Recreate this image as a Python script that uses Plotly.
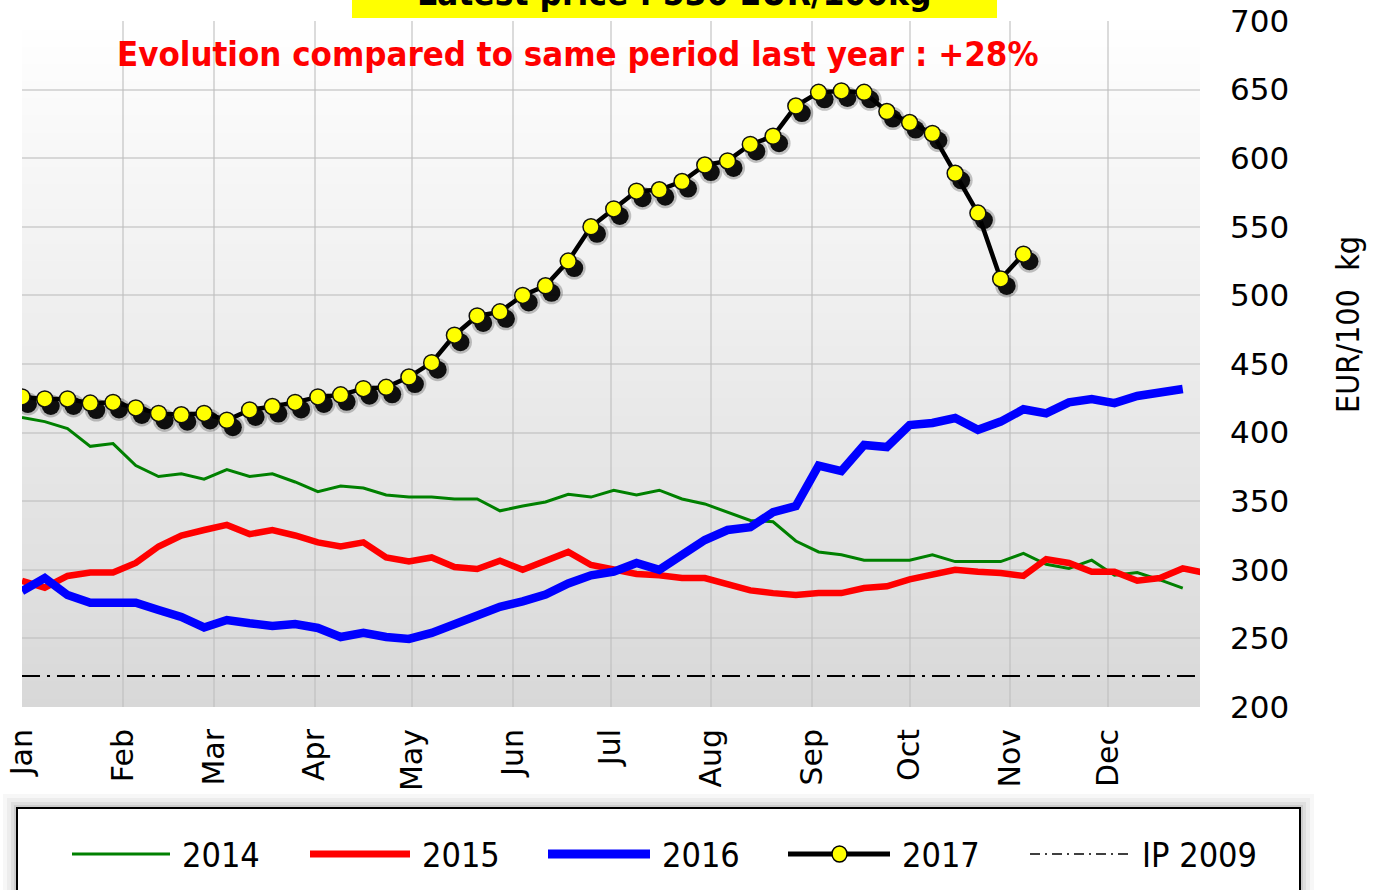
import plotly.graph_objects as go

# ---------------- data ----------------
weeks_2014 = list(range(1, 53))
price_2014 = [411, 408, 403, 390, 392, 376, 368, 370, 366, 373,
              368, 370, 364, 357, 361, 359.6, 354.5, 353, 353, 351.6,
              351.6, 343, 346.5, 349.4, 355, 353, 358, 354.5, 358, 351.6,
              348, 342, 336, 335, 321, 313, 311, 307, 307, 307,
              311, 306, 306, 306, 312, 304, 301, 307, 296, 298,
              292.6, 286.7]

weeks_2015 = list(range(1, 54))
price_2015 = [292, 287, 295.5, 298, 298, 305, 317, 325, 329, 332.7,
              326, 329, 325, 320, 317, 320, 309, 306, 309, 302,
              300.6, 306.6, 300, 307, 313, 303.5, 300, 297, 296, 294,
              294, 289, 285, 283, 281.6, 283, 283, 286.7, 288, 293,
              296, 300, 298.6, 297.7, 295.5, 307.7, 305, 298.6, 298.6, 292,
              294, 301, 297.7]

weeks_2016 = list(range(1, 53))
price_2016 = [284.5, 294, 281.6, 276, 276, 276, 270.7, 265.6, 258, 263.4,
              261, 259, 260.5, 257.6, 251, 254, 251, 249.6, 254, 259.8,
              265.6, 273, 277, 282, 290, 296, 298.6, 305, 300, 310,
              321.7, 329, 331, 342, 346.5, 376, 372, 391, 389.5, 405.5,
              407, 410.6, 402, 408, 417, 414, 422, 424.5, 421.5, 426.7,
              429, 431.8]

weeks_2017 = list(range(1, 46))
price_2017 = [426, 424.5, 424.5, 421.5, 422, 418, 414, 413, 414, 409,
              416.5, 419, 422, 426, 427.5, 432, 433, 440.5, 451, 471,
              485, 488, 500, 507, 525, 550, 563, 576, 577, 583,
              595, 598, 610, 616, 638, 648, 649, 648, 634, 626,
              618, 589, 560, 512, 530]

ip_2009_weeks = [1, 53]
ip_2009_value = [222.6, 222.6]

month_names = ["Jan", "Feb", "Mar", "Apr", "May", "Jun",
               "Jul", "Aug", "Sep", "Oct", "Nov", "Dec"]
month_start_day = [1, 32, 60, 91, 121, 152, 182, 213, 244, 274, 305, 335]
month_tick_week = [1 + (d - 1) / 7 for d in month_start_day]

y_ticks = [200, 250, 300, 350, 400, 450, 500, 550, 600, 650, 700]

title_text = "Latest price : 530 EUR/100kg"
subtitle_text = "Evolution compared to same period last year : +28%"
y_title = "EUR/100\u00a0\u00a0kg"
legend_labels = ["2014", "2015", "2016", "2017", "IP 2009"]

# ---------------- layout geometry (pixels) ----------------
FIG_W, FIG_H = 1373, 890
PL, PR, PT, PB = 22, 1200, 21, 707
X_MAX = 1 + (PR - PL) / 22.76


def px_x(px):
    return (px - PL) / (PR - PL)


def px_y(py):
    return (PB - py) / (PB - PT)


# shadow offset for the 2017 markers (about 6 px right, 7 px down)
SH_DX = 6 / ((PR - PL) / (X_MAX - 1))
SH_DY = -7 / ((PB - PT) / 500)

cond = "DejaVu Sans Condensed, DejaVu Sans, sans-serif"
reg = "DejaVu Sans, Verdana, sans-serif"

fig = go.Figure()

fig.add_trace(go.Scatter(x=weeks_2014, y=price_2014, mode="lines",
                         line=dict(color="#008000", width=3), showlegend=False))
fig.add_trace(go.Scatter(x=weeks_2015, y=price_2015, mode="lines",
                         line=dict(color="#ff0000", width=6.5), showlegend=False))
fig.add_trace(go.Scatter(x=weeks_2016, y=price_2016, mode="lines",
                         line=dict(color="#0000ff", width=8.5), showlegend=False))
fig.add_trace(go.Scatter(x=ip_2009_weeks, y=ip_2009_value, mode="lines",
                         line=dict(color="black", width=2, dash="18px,7px,3px,7px"),
                         showlegend=False))
fig.add_trace(go.Scatter(x=weeks_2017, y=price_2017, mode="lines",
                         line=dict(color="black", width=4.5), showlegend=False))
# marker shadows
fig.add_trace(go.Scatter(x=[w + SH_DX for w in weeks_2017],
                         y=[v + SH_DY for v in price_2017], mode="markers",
                         marker=dict(color="rgba(0,0,0,0.22)", size=23, line=dict(width=0)),
                         showlegend=False, hoverinfo="skip"))
fig.add_trace(go.Scatter(x=[w + SH_DX for w in weeks_2017],
                         y=[v + SH_DY for v in price_2017], mode="markers",
                         marker=dict(color="rgba(0,0,0,0.92)", size=18, line=dict(width=0)),
                         showlegend=False, hoverinfo="skip"))
fig.add_trace(go.Scatter(x=weeks_2017, y=price_2017, mode="markers",
                         marker=dict(color="#ffff00", size=16,
                                     line=dict(color="#111111", width=1.5)),
                         showlegend=False))

shapes = []
# gradient plot background
N = 80
for i in range(N):
    t = (i + 0.5) / N
    c = int(round(216 + 39 * t))
    shapes.append(dict(type="rect", xref="paper", yref="paper",
                       x0=0, x1=1, y0=i / N, y1=(i + 1) / N + 0.002,
                       fillcolor=f"rgb({c},{c},{c})", line=dict(width=0),
                       layer="below"))

# yellow title box
shapes.append(dict(type="rect", xref="paper", yref="paper",
                   x0=px_x(352), x1=px_x(997), y0=px_y(18), y1=px_y(-60),
                   fillcolor="#ffff00", line=dict(width=0), layer="above"))

# legend box shadow + box
for k, a in [(14, 0.03), (10, 0.04), (6, 0.06), (3, 0.08)]:
    shapes.append(dict(type="rect", xref="paper", yref="paper",
                       x0=px_x(17 - k), x1=px_x(1300 + k),
                       y0=px_y(920), y1=px_y(808 - k),
                       fillcolor=f"rgba(0,0,0,{a})", line=dict(width=0), layer="above"))
shapes.append(dict(type="rect", xref="paper", yref="paper",
                   x0=px_x(17), x1=px_x(1300), y0=px_y(920), y1=px_y(808),
                   fillcolor="white", line=dict(color="black", width=2), layer="above"))

LEG_Y = 854
leg_items = [
    (72, 170, 180, dict(color="#008000", width=3)),
    (310, 410, 420, dict(color="#ff0000", width=7)),
    (548, 650, 660, dict(color="#0000ff", width=9)),
    (788, 890, 900, dict(color="black", width=5)),
    (1030, 1128, 1140, dict(color="black", width=1.5, dash="10px,5px,2px,5px")),
]
annotations = []
for (x0, x1, xt, ln), lab in zip(leg_items, legend_labels):
    shapes.append(dict(type="line", xref="paper", yref="paper",
                       x0=px_x(x0), x1=px_x(x1), y0=px_y(LEG_Y), y1=px_y(LEG_Y),
                       line=ln, layer="above"))
    annotations.append(dict(xref="paper", yref="paper", x=px_x(xt), y=px_y(LEG_Y + 1),
                            xanchor="left", yanchor="middle", showarrow=False,
                            text=lab, font=dict(family=cond, size=34, color="black")))
# yellow marker in the 2017 legend sample
shapes.append(dict(type="circle", xref="paper", yref="paper",
                   x0=px_x(832), x1=px_x(847), y0=px_y(LEG_Y + 8), y1=px_y(LEG_Y - 8),
                   fillcolor="#ffff00", line=dict(color="black", width=1.5), layer="above"))

annotations.append(dict(xref="paper", yref="paper", x=px_x(674), y=px_y(-7),
                        xanchor="center", yanchor="middle", showarrow=False,
                        text="<b>" + title_text + "</b>",
                        font=dict(family=cond, size=35, color="black")))
annotations.append(dict(xref="paper", yref="paper", x=px_x(578), y=px_y(54),
                        xanchor="center", yanchor="middle", showarrow=False,
                        text="<b>" + subtitle_text + "</b>",
                        font=dict(family=cond, size=34.5, color="#ff0000")))
annotations.append(dict(xref="paper", yref="paper", x=px_x(1348), y=px_y(325),
                        xanchor="center", yanchor="middle", showarrow=False,
                        textangle=-90, text=y_title,
                        font=dict(family=cond, size=32, color="black")))

fig.update_layout(
    width=FIG_W, height=FIG_H,
    margin=dict(l=PL, r=FIG_W - PR, t=PT, b=FIG_H - PB, pad=0, autoexpand=False),
    paper_bgcolor="white", plot_bgcolor="#d8d8d8",
    shapes=shapes, annotations=annotations,
    showlegend=False,
    xaxis=dict(range=[1, X_MAX], tickmode="array", tickvals=month_tick_week,
               ticktext=month_names, tickangle=-90, ticks="",
               tickfont=dict(family=reg, size=30, color="black"),
               ticklabelstandoff=15, automargin=False,
               showgrid=True, gridcolor="rgba(190,190,190,0.55)", gridwidth=2,
               zeroline=False, showline=False, fixedrange=True),
    yaxis=dict(range=[200, 700], side="right", tickmode="array", tickvals=y_ticks,
               ticks="", tickfont=dict(family=reg, size=31, color="black"),
               ticklabelstandoff=29, automargin=False,
               showgrid=True, gridcolor="rgba(190,190,190,0.55)", gridwidth=2,
               zeroline=False, showline=False, fixedrange=True),
)

fig.write_html("out.html", config={"displayModeBar": False},
               post_script="document.body.style.margin='0';document.body.style.overflow='hidden';")
